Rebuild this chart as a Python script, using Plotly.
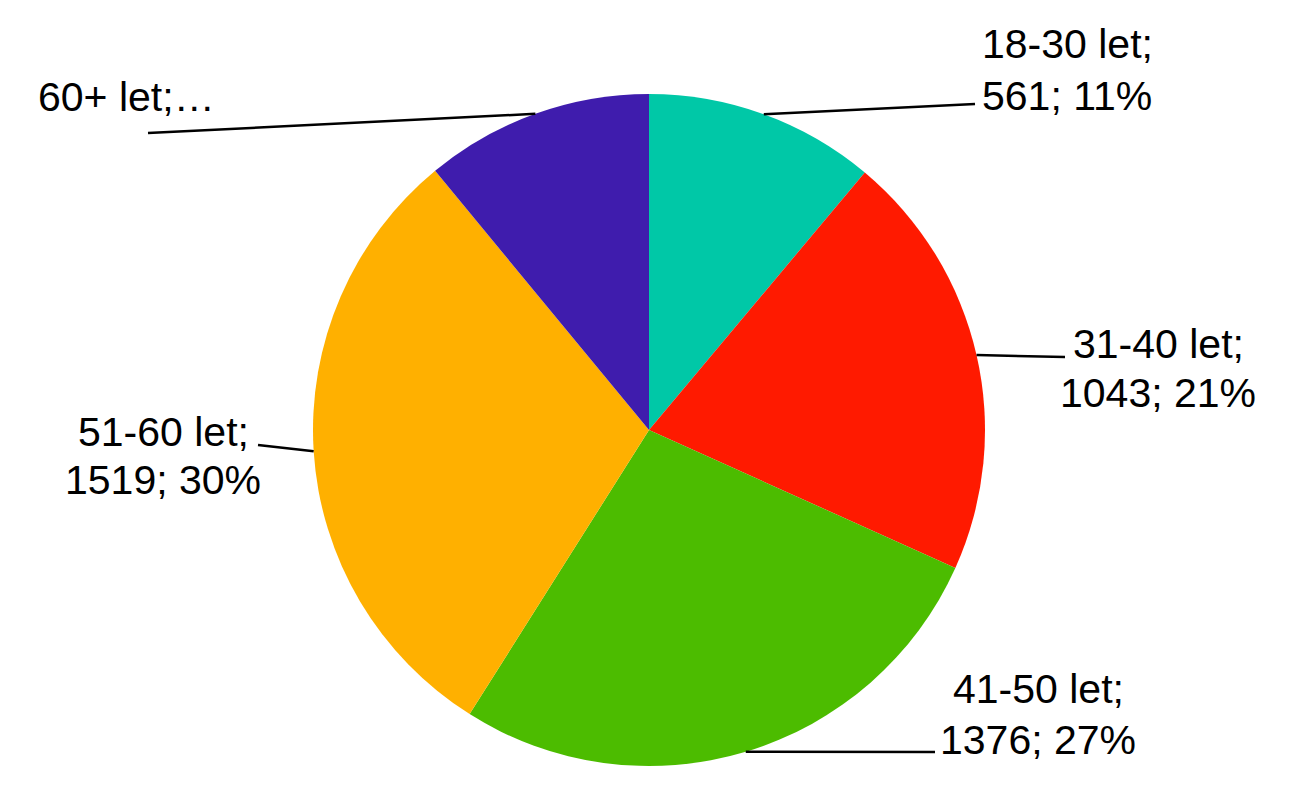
import numpy as np
import plotly.graph_objects as go

categories = ["18-30 let", "31-40 let", "41-50 let", "51-60 let", "60+ let"]
values = [561, 1043, 1376, 1519, 555]
label_lines = [["18-30 let;", "561; 11%"], ["31-40 let;", "1043; 21%"], ["41-50 let;", "1376; 27%"],
               ["51-60 let;", "1519; 30%"], ["60+ let;…"]]
colors = ["#00C8A7", "#FF1A00", "#4CBC00", "#FFB000", "#3F1CAD"]

W, H = 1302, 798
OFF = 8  # page body margin in the browser
cx, cy, R = 649, 430, 336  # pixel centre / radius of pie (screen coords)

# label line centres (screen pixels): x centre, list of y centres
label_x = [1067, 1158, 1038, 163, 126]
label_y = [[44, 96], [344, 393], [689, 740], [432, 480], [97]]
line_end = [(975, 104), (1065, 357), (935, 752), (258, 445), (148, 133)]

def px(x):
    return (x - OFF) / W

def py(y):
    return (H - (y - OFF)) / H

fig = go.Figure(go.Pie(
    labels=categories, values=values, sort=False, direction="clockwise", rotation=0,
    marker=dict(colors=colors, line=dict(width=0)),
    textinfo="none", hoverinfo="label+value+percent", showlegend=False,
    domain=dict(x=[px(cx - R), px(cx + R)], y=[py(cy + R), py(cy - R)]),
))

vals = np.array(values, dtype=float)
frac = vals / vals.sum()
cum = np.concatenate([[0], np.cumsum(frac)])
mids = (cum[:-1] + cum[1:]) / 2 * 2 * np.pi

shapes = []
annotations = []
for i, m in enumerate(mids):
    x0 = cx + R * np.sin(m)
    y0 = cy - R * np.cos(m)
    x1, y1 = line_end[i]
    shapes.append(dict(type="line", xref="paper", yref="paper",
                       x0=px(x0), y0=py(y0), x1=px(x1), y1=py(y1),
                       line=dict(color="black", width=2.5)))
    for txt, ly in zip(label_lines[i], label_y[i]):
        annotations.append(dict(text=txt, x=px(label_x[i]), y=py(ly), xref="paper", yref="paper",
                                xanchor="center", yanchor="middle", align="center", showarrow=False,
                                font=dict(family="Liberation Sans, Arial, sans-serif", size=41,
                                          color="black")))

fig.update_layout(width=W, height=H, margin=dict(l=0, r=0, t=0, b=0),
                  paper_bgcolor="white", plot_bgcolor="white",
                  shapes=shapes, annotations=annotations)
fig.write_html("out.html")
